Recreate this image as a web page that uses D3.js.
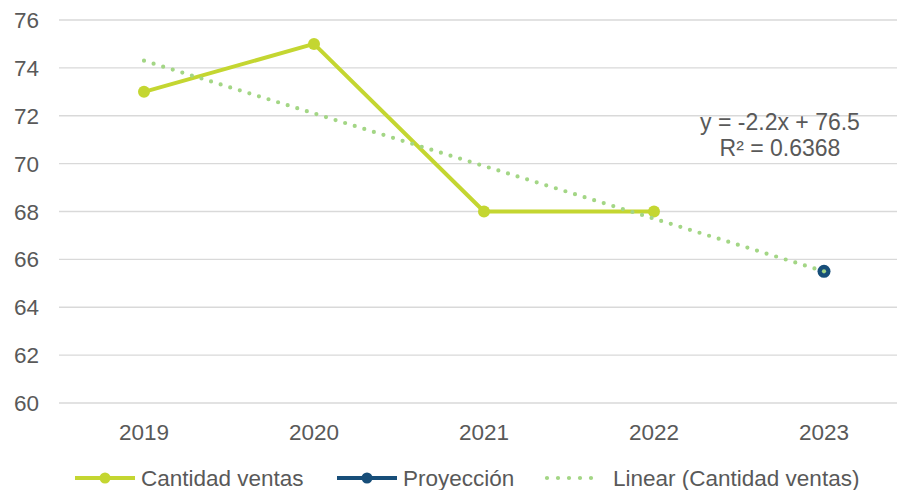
<html>
<head>
<meta charset="utf-8">
<title>Cantidad ventas</title>
<style>
  body { margin: 0; background: #fff; }
  text { font-family: "Liberation Sans", Arial, sans-serif; fill: #595959; }
</style>
</head>
<body>
<div id="chart"></div>
<script src="https://cdn.jsdelivr.net/npm/d3@7"></script>
<script>
(function(){
  "use strict";

  // data
  var years = ["2019", "2020", "2021", "2022", "2023"];
  var ventas = [73, 75, 68, 68];          // 2019-2022
  var proyeccion = [65.5];                // 2023
  var yTicks = [60, 62, 64, 66, 68, 70, 72, 74, 76];
  var trendSlope = -2.2, trendIntercept = 76.5, trendR2 = 0.6368;
  var seriesNames = ["Cantidad ventas", "Proyección", "Linear (Cantidad ventas)"];

  var W = 897, H = 490;
  var green = "#c4d631", blue = "#174e79", trendCol = "#a3d685";

  var svg = d3.select("#chart").append("svg")
      .attr("width", W).attr("height", H);

  var x = d3.scaleBand().domain(years).range([59, 909]);
  var y = d3.scaleLinear().domain([60, 76]).range([403, 20]);
  var cx = function(yr){ return x(yr) + x.bandwidth() / 2; };

  // grid lines
  svg.append("g").selectAll("line").data(yTicks).enter().append("line")
      .attr("x1", 59).attr("x2", W)
      .attr("y1", function(d){ return y(d); })
      .attr("y2", function(d){ return y(d); })
      .style("stroke", "#d9d9d9").style("stroke-width", 1.3);

  // y axis labels
  svg.append("g").selectAll("text").data(yTicks).enter().append("text")
      .attr("x", 39).attr("y", function(d){ return y(d); })
      .attr("dy", "0.36em")
      .attr("text-anchor", "end")
      .style("font-size", "22.5px")
      .text(function(d){ return d; });

  // x axis labels
  svg.append("g").selectAll("text").data(years).enter().append("text")
      .attr("x", function(d){ return cx(d); }).attr("y", 440)
      .attr("text-anchor", "middle")
      .style("font-size", "22.5px")
      .text(function(d){ return d; });

  var line = d3.line()
      .x(function(d){ return cx(d.yr); })
      .y(function(d){ return y(d.v); });

  var ventasPts = ventas.map(function(v, i){ return { yr: years[i], v: v }; });
  var proyPts = proyeccion.map(function(v, i){ return { yr: years[ventas.length + i], v: v }; });

  svg.append("path").datum(ventasPts)
      .attr("d", line)
      .style("fill", "none").style("stroke", green)
      .style("stroke-width", 4).style("stroke-linejoin", "round");

  svg.append("g").selectAll("circle").data(ventasPts).enter().append("circle")
      .attr("cx", function(d){ return cx(d.yr); })
      .attr("cy", function(d){ return y(d.v); })
      .attr("r", 6).style("fill", green);

  svg.append("g").selectAll("circle").data(proyPts).enter().append("circle")
      .attr("cx", function(d){ return cx(d.yr); })
      .attr("cy", function(d){ return y(d.v); })
      .attr("r", 6.5).style("fill", blue);

  // linear trend (dots spaced so one lands on each end)
  var trendPts = years.map(function(yr, i){
    return { yr: yr, v: trendSlope * (i + 1) + trendIntercept };
  });
  var trend = svg.append("path").datum(trendPts)
      .attr("d", line)
      .style("fill", "none").style("stroke", trendCol)
      .style("stroke-width", 4.2).style("stroke-linecap", "round");
  var len = trend.node().getTotalLength();
  var gap = len / Math.round(len / 10);
  trend.style("stroke-dasharray", "0 " + gap);
  // last dot of the trend sits over the projection marker
  var lastT = trendPts[trendPts.length - 1];
  svg.append("circle")
      .attr("cx", cx(lastT.yr)).attr("cy", y(lastT.v))
      .attr("r", 2.1).style("fill", trendCol);

  // equation
  var eq = svg.append("text")
      .attr("x", 780).attr("text-anchor", "middle")
      .style("font-size", "23px");
  eq.append("tspan").attr("x", 780).attr("y", 130)
      .text("y = " + trendSlope + "x + " + trendIntercept);
  eq.append("tspan").attr("x", 780).attr("y", 156)
      .text("R² = " + trendR2);

  // legend
  var legY = 478;
  var leg = svg.append("g");
  var legX = [75, 337, 547];
  var legCols = [green, blue, trendCol];
  seriesNames.forEach(function(name, i){
    var g = leg.append("g");
    if (i < 2) {
      g.append("line").attr("x1", legX[i]).attr("x2", legX[i] + 60)
        .attr("y1", legY).attr("y2", legY)
        .style("stroke", legCols[i]).style("stroke-width", 4);
      g.append("circle").attr("cx", legX[i] + 30).attr("cy", legY).attr("r", 5.5)
        .style("fill", legCols[i]);
    } else {
      g.append("line").attr("x1", legX[i]).attr("x2", legX[i] + 55)
        .attr("y1", legY).attr("y2", legY)
        .style("stroke", legCols[i]).style("stroke-width", 4.2)
        .style("stroke-linecap", "round").style("stroke-dasharray", "0 11");
    }
    g.append("text").attr("x", legX[i] + 66).attr("y", legY)
      .attr("dy", "0.36em")
      .style("font-size", "22.5px")
      .text(name);
  });
})();
</script>
</body>
</html>
